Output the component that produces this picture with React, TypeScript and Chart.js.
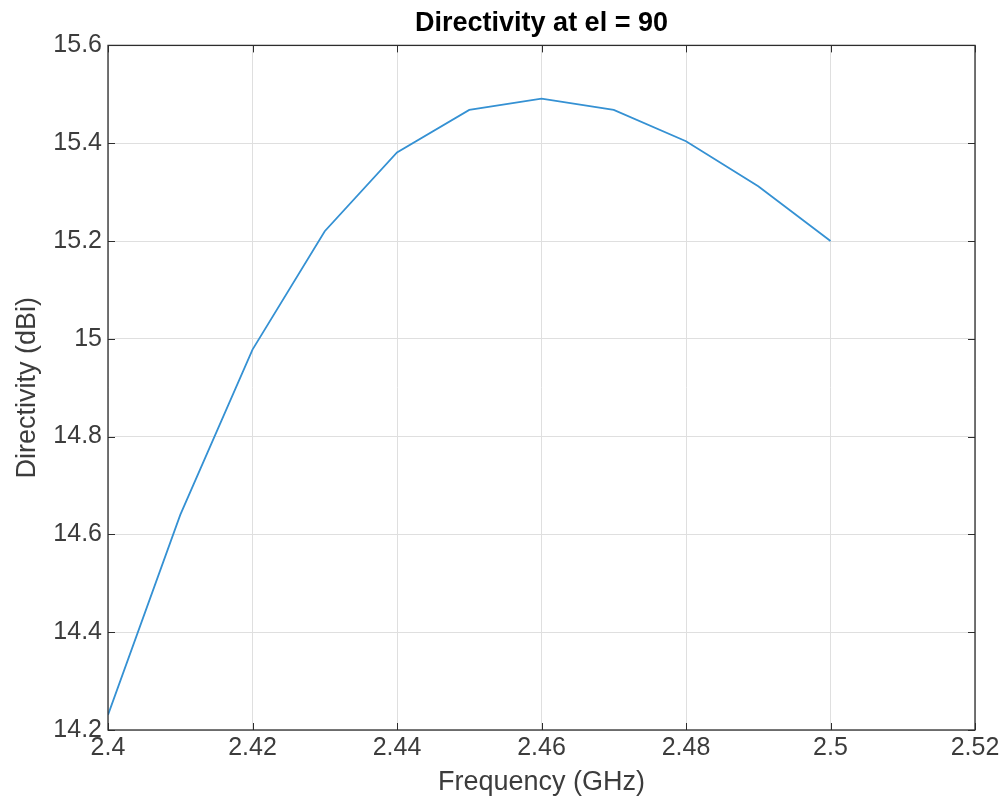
import React, { useEffect, useRef } from "react";
import { Chart, registerables } from "chart.js";

Chart.register(...registerables);

const frequencies = [2.4, 2.41, 2.42, 2.43, 2.44, 2.45, 2.46, 2.47, 2.48, 2.49, 2.5];
const directivity = [14.231, 14.64, 14.978, 15.22, 15.381, 15.468, 15.491, 15.468, 15.404, 15.312, 15.2];
const xTicks = [2.4, 2.42, 2.44, 2.46, 2.48, 2.5, 2.52];
const yTicks = [14.2, 14.4, 14.6, 14.8, 15, 15.2, 15.4, 15.6];

const titleText = "Directivity at el = 90";
const xTitle = "Frequency (GHz)";
const yTitle = "Directivity (dBi)";

const FONT = "'Liberation Sans', Arial, Helvetica, sans-serif";
const AXIS_COLOR = "rgb(45,45,45)";
const LABEL_COLOR = "rgb(60,60,60)";

const boxPlugin = {
  id: "matlabBox",
  afterDatasetsDraw(chart: any) {
    const { ctx, chartArea } = chart;
    const { left, right, top, bottom } = chartArea;
    const xs = chart.scales.x;
    const ys = chart.scales.y;
    const tl = 7;
    ctx.save();
    ctx.strokeStyle = AXIS_COLOR;
    ctx.lineWidth = 1;
    ctx.beginPath();
    xTicks.forEach((t) => {
      const px = Math.round(xs.getPixelForValue(t)) + 0.5;
      ctx.moveTo(px, bottom);
      ctx.lineTo(px, bottom - tl);
      ctx.moveTo(px, top);
      ctx.lineTo(px, top + tl);
    });
    yTicks.forEach((t) => {
      const py = Math.round(ys.getPixelForValue(t)) + 0.5;
      ctx.moveTo(left, py);
      ctx.lineTo(left + tl, py);
      ctx.moveTo(right, py);
      ctx.lineTo(right - tl, py);
    });
    ctx.stroke();
    ctx.lineWidth = 1.3;
    ctx.strokeRect(left, top, right - left, bottom - top);
    ctx.restore();
  },
};

export default function App() {
  const ref = useRef<HTMLCanvasElement | null>(null);

  useEffect(() => {
    if (!ref.current) return;
    const chart = new Chart(ref.current, {
      type: "line",
      data: {
        datasets: [
          {
            data: frequencies.map((f, i) => ({ x: f, y: directivity[i] })),
            borderColor: "#3591d3",
            borderWidth: 1.8,
            pointRadius: 0,
            tension: 0,
            fill: false,
          },
        ],
      },
      options: {
        animation: false,
        responsive: false,
        layout: { padding: { left: 0, right: 32, top: 0, bottom: 0 } },
        plugins: {
          legend: { display: false },
          tooltip: { enabled: false },
          title: {
            display: true,
            text: titleText,
            fullSize: false,
            color: "#000",
            font: { family: FONT, size: 27, weight: "bold" },
            padding: { top: 7, bottom: 6 },
          },
        },
        scales: {
          x: {
            type: "linear",
            min: 2.4,
            max: 2.52,
            afterBuildTicks: (s: any) => {
              s.ticks = xTicks.map((v) => ({ value: v }));
            },
            afterFit: (s: any) => {
              s.height = 81;
            },
            ticks: {
              color: LABEL_COLOR,
              font: { family: FONT, size: 25 },
              padding: 3,
              maxRotation: 0,
              autoSkip: false,
              callback: (v: any) => String(+Number(v).toFixed(4)),
            },
            grid: { color: "#dfdfdf", drawTicks: false, lineWidth: 1 },
            border: { display: false },
            title: {
              display: true,
              text: xTitle,
              color: LABEL_COLOR,
              font: { family: FONT, size: 27 },
              padding: { top: 0, bottom: 12 },
            },
          },
          y: {
            type: "linear",
            min: 14.2,
            max: 15.6,
            afterBuildTicks: (s: any) => {
              s.ticks = yTicks.map((v) => ({ value: v }));
            },
            afterFit: (s: any) => {
              s.width = 108;
            },
            ticks: {
              color: LABEL_COLOR,
              font: { family: FONT, size: 25 },
              padding: 6,
              autoSkip: false,
              callback: (v: any) => String(+Number(v).toFixed(4)),
            },
            grid: { color: "#dfdfdf", drawTicks: false, lineWidth: 1 },
            border: { display: false },
            title: {
              display: true,
              text: yTitle,
              color: LABEL_COLOR,
              font: { family: FONT, size: 27 },
              padding: { top: 11, bottom: 0 },
            },
          },
        },
      },
      plugins: [boxPlugin],
    });
    return () => chart.destroy();
  }, []);

  return (
    <div style={{ position: "absolute", left: 0, top: 0, width: 1007, height: 811, background: "#fff" }}>
      <canvas ref={ref} width={1007} height={811} style={{ display: "block", width: 1007, height: 811 }} />
    </div>
  );
}
